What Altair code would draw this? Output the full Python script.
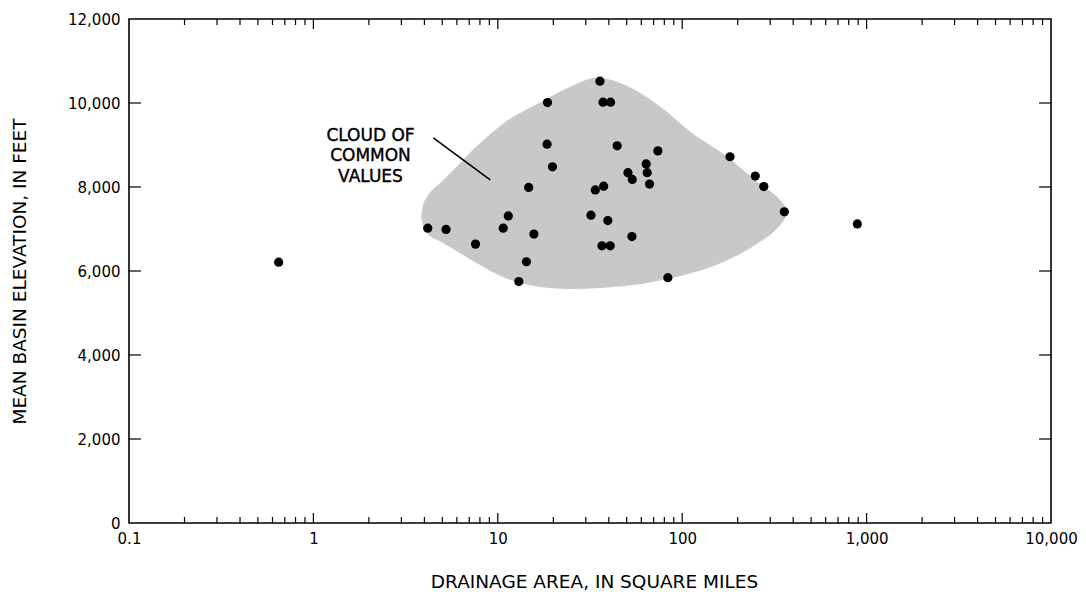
import altair as alt
import pandas as pd

# ---- data ----
area_sqmi = [0.648, 891, 35.8, 18.6, 37.2, 40.9, 18.5, 44.4, 73.8, 181.6, 19.8,
             63.8, 64.6, 50.8, 53.6, 249, 277, 66.5, 14.7, 37.5, 33.8, 358, 11.4,
             32.0, 39.5, 4.17, 5.24, 10.7, 15.7, 7.57, 53.4, 36.7, 40.7, 14.3,
             13.0, 83.6]
elev_ft = [6210, 7120, 10520, 10010, 10020, 10020, 9020, 8980, 8860, 8720, 8480,
           8550, 8340, 8340, 8180, 8260, 8010, 8070, 7990, 8020, 7930, 7410, 7310,
           7330, 7200, 7020, 6990, 7020, 6880, 6640, 6820, 6600, 6600, 6220,
           5750, 5840]

cloud_x = [3.85, 3.95, 4.1, 4.94, 5.5, 7.5, 11, 17, 26, 34, 49, 74, 111, 170, 256, 330, 382]
cloud_upper = [7350, 7600, 7740, 8119, 8320, 8930, 9550, 10020, 10430, 10600, 10430,
               9950, 9310, 8760, 8120, 7750, 7412]
cloud_lower = [7250, 7050, 6930, 6690, 6570, 6214, 5833, 5619, 5571, 5590, 5640, 5760,
               5945, 6229, 6655, 7030, 7412]

leader_x = [4.47, 9.10]
leader_y = [9170, 8170]

note_text = ["CLOUD OF", "COMMON", "VALUES"]
note_x = [2.04, 2.04, 2.04]
note_y = [9210, 8740, 8240]

x_label_values = [0.1, 1, 10, 100, 1000, 10000]
y_label_values = [0, 2000, 4000, 6000, 8000, 10000, 12000]
x_major_inner = [1, 10, 100, 1000]
x_minor = [d * m for d in [0.1, 1, 10, 100, 1000] for m in range(2, 10)]
y_major_inner = [2000, 4000, 6000, 8000, 10000]

# ---- frames ----
pts = pd.DataFrame({"x": area_sqmi, "y": elev_ft})
cloud = pd.DataFrame({"x": cloud_x, "y": cloud_upper, "lo": cloud_lower})
leader = pd.DataFrame({"x": leader_x, "y": leader_y, "o": [0, 1]})
notes = pd.DataFrame({"t": note_text, "x": note_x, "y": note_y})

XMAJ = 238   # ~10 px in y units
XMIN = 143   # ~6 px
rows = []
for v in x_major_inner:
    rows += [{"x": v, "y": 0, "y2": XMAJ}, {"x": v, "y": 12000, "y2": 12000 - XMAJ}]
for v in x_minor:
    rows += [{"x": v, "y": 0, "y2": XMIN}, {"x": v, "y": 12000, "y2": 12000 - XMIN}]
xt = pd.DataFrame(rows)
YK = 1.161  # ~12 px in log-x units
yrows = []
for v in y_major_inner:
    yrows += [{"y": v, "x": 0.1, "x2": 0.1 * YK}, {"y": v, "x": 10000, "x2": 10000 / YK}]
yt = pd.DataFrame(yrows)

FONT = "DejaVu Sans"
xscale = alt.Scale(type="log", domain=[0.1, 10000], nice=False)
yscale = alt.Scale(domain=[0, 12000], nice=False, zero=True)

xaxis = alt.Axis(values=x_label_values,
                 labelExpr="datum.value < 1 ? '0.1' : format(datum.value, ',d')",
                 title="DRAINAGE AREA, IN SQUARE MILES",
                 tickSize=0, domain=False, grid=False, labelPadding=8, labelFlush=False,
                 labelOverlap=False, labelFont=FONT, labelFontSize=15, labelColor="black",
                 titleFont=FONT, titleFontSize=18.5, titleFontWeight="normal", titleColor="black",
                 titleY=58, titleBaseline="middle", titleX=465)
yaxis = alt.Axis(values=y_label_values, labelExpr="format(datum.value, ',d')",
                 title="MEAN BASIN ELEVATION, IN FEET",
                 tickSize=0, domain=False, grid=False, labelPadding=9, labelFlush=False,
                 labelOverlap=False, labelFont=FONT, labelFontSize=15, labelColor="black",
                 titleFont=FONT, titleFontSize=18.5, titleFontWeight="normal", titleColor="black",
                 titleAngle=-90, titleX=-110, titleY=252, titleAlign="center",
                 titleBaseline="middle")

X = alt.X("x:Q", scale=xscale, axis=xaxis)
Y = alt.Y("y:Q", scale=yscale, axis=yaxis)

cloud_layer = alt.Chart(cloud).mark_area(color="#c8c8c8", interpolate="monotone").encode(
    x=X, y=Y, y2="lo:Q",
)

xtick_layer = alt.Chart(xt).mark_rule(color="black", strokeWidth=1.2).encode(
    x=X, y=Y, y2="y2:Q",
)
ytick_layer = alt.Chart(yt).mark_rule(color="black", strokeWidth=1.2).encode(
    x=X, x2="x2:Q", y=Y,
)

leader_layer = alt.Chart(leader).mark_line(color="black", strokeWidth=1.6).encode(
    x=X, y=Y, order="o:Q",
)

note_layer = alt.Chart(notes).mark_text(font=FONT, fontSize=17, color="black",
                                         stroke="black", strokeWidth=0.4,
                                         align="center", baseline="middle").encode(
    x=X, y=Y, text="t:N",
)

point_layer = alt.Chart(pts).mark_circle(color="black", size=85, opacity=1).encode(
    x=X, y=Y,
)

chart = alt.layer(cloud_layer, xtick_layer, ytick_layer, leader_layer, note_layer,
                  point_layer).properties(
    width=922, height=504,
    autosize=alt.AutoSizeParams(type="none"),
    padding={"left": 121, "top": 11, "right": 27, "bottom": 72},
    background="white",
).configure_view(stroke="black", strokeWidth=1.6)

chart.save("out.html", embed_options={"renderer": "svg", "actions": False})
